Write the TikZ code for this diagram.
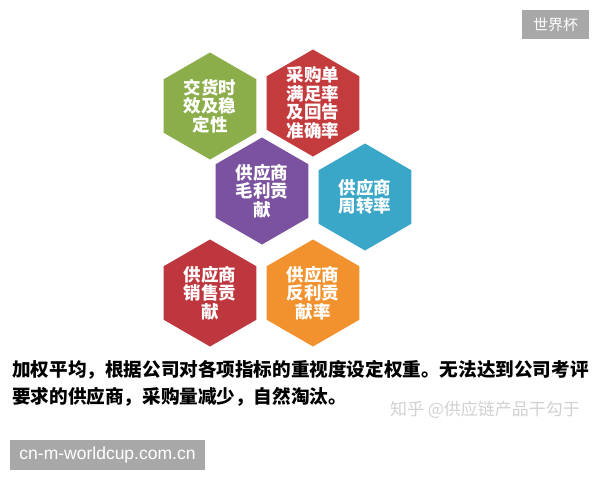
\documentclass[tikz,border=0pt]{standalone}
\usepackage{fontspec}
\setmainfont{Noto Sans CJK SC}
\newfontfamily\urlfont{Liberation Sans}
\usetikzlibrary{shapes.geometric}
\definecolor{hexgreen}{RGB}{139,174,75}
\definecolor{hexred}{RGB}{196,59,62}
\definecolor{hexpurple}{RGB}{123,82,160}
\definecolor{hexcyan}{RGB}{58,166,200}
\definecolor{hexdarkred}{RGB}{190,55,62}
\definecolor{hexorange}{RGB}{242,146,46}
\definecolor{tagfill}{RGB}{168,168,168}
\begin{document}
\begin{tikzpicture}[x=1pt,y=-1pt,
  hexa/.style={regular polygon,regular polygon sides=6,shape border rotate=30,minimum size=107pt,inner sep=-12pt,
    text=white,align=center,font=\fontsize{17.5}{18.5}\selectfont\bfseries},
  tag/.style={fill=tagfill,text=white,inner sep=0pt}]
\useasboundingbox (0,0) rectangle (600,480);
% hexagons
\node[hexa,fill=hexgreen] (delivery) at (210,106) {交货时\\效及稳\\定性};
\node[hexa,fill=hexred] (order) at (313,103) {采购单\\满足率\\及回告\\准确率};
\node[hexa,fill=hexpurple] (margin) at (262,191) {供应商\\毛利贡\\献};
\node[hexa,fill=hexcyan] (turnover) at (365,197) {供应商\\周转率};
\node[hexa,fill=hexdarkred] (sales) at (210,293) {供应商\\销售贡\\献};
\node[hexa,fill=hexorange] (rebate) at (313,293) {供应商\\反利贡\\献率};
% text below
\node[anchor=north west,align=left,inner sep=0pt,font=\fontsize{18.6}{27}\selectfont\bfseries] (note) at (12,360)
  {加权平均，根据公司对各项指标的重视度设定权重。无法达到公司考评\\要求的供应商，采购量减少，自然淘汰。};
\node[text=black!18,inner sep=0pt,font=\fontsize{17}{17}\selectfont] (mark) at (485,410) {知乎 @供应链产品干勾于};
% tags
\node[tag,minimum width=67pt,minimum height=29pt,font=\fontsize{15}{15}\selectfont] (cup) at (555.5,24.5) {世界杯};
\node[tag,minimum width=195pt,minimum height=30pt,font=\urlfont\fontsize{17.5}{17.5}\selectfont] (site) at (107.5,455) {cn-m-worldcup.com.cn};
\end{tikzpicture}
\end{document}
